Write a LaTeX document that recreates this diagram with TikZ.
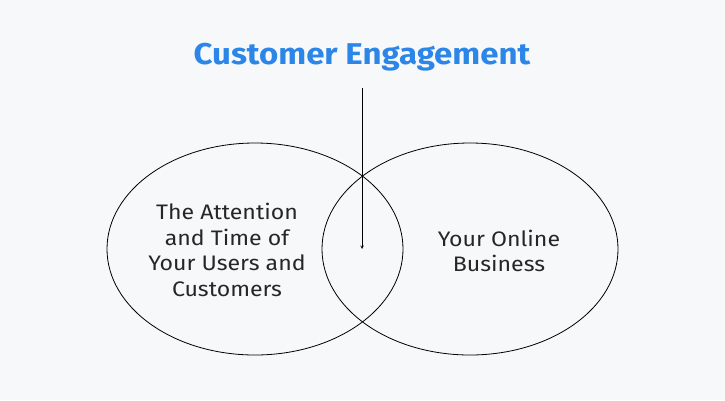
\documentclass[tikz,border=0pt]{standalone}
\usepackage{fontspec}
\setmainfont{Fira Sans}[FakeStretch=1.1]
\definecolor{bg}{HTML}{F7F8FA}
\definecolor{ttl}{HTML}{2B86E8}
\begin{document}
\begin{tikzpicture}[x=1pt,y=-1pt,
  circ/.style={draw=black,line width=0.8pt},
  lbl/.style={align=center,font=\fontsize{21}{25.5}\selectfont,text=black!85}]
\fill[bg] (0,0) rectangle (725,400);
\useasboundingbox (0,0) rectangle (725,400);
\draw[circ] (255,249) ellipse [x radius=148,y radius=106];
\draw[circ] (470,249) ellipse [x radius=148,y radius=106];
\node[font=\fontsize{30}{34}\selectfont\bfseries,text=ttl] (title) at (362,57) {Customer Engagement};
\coordinate (top) at (362,88);
\coordinate (tip) at (362,249);
\draw[-stealth,line width=0.6pt] (top) -- (tip);
\node[lbl] (left) at (227,250) {The Attention\\and Time of\\Your Users and\\Customers};
\node[lbl] (right) at (499,251) {Your Online\\Business};
\end{tikzpicture}
\end{document}
